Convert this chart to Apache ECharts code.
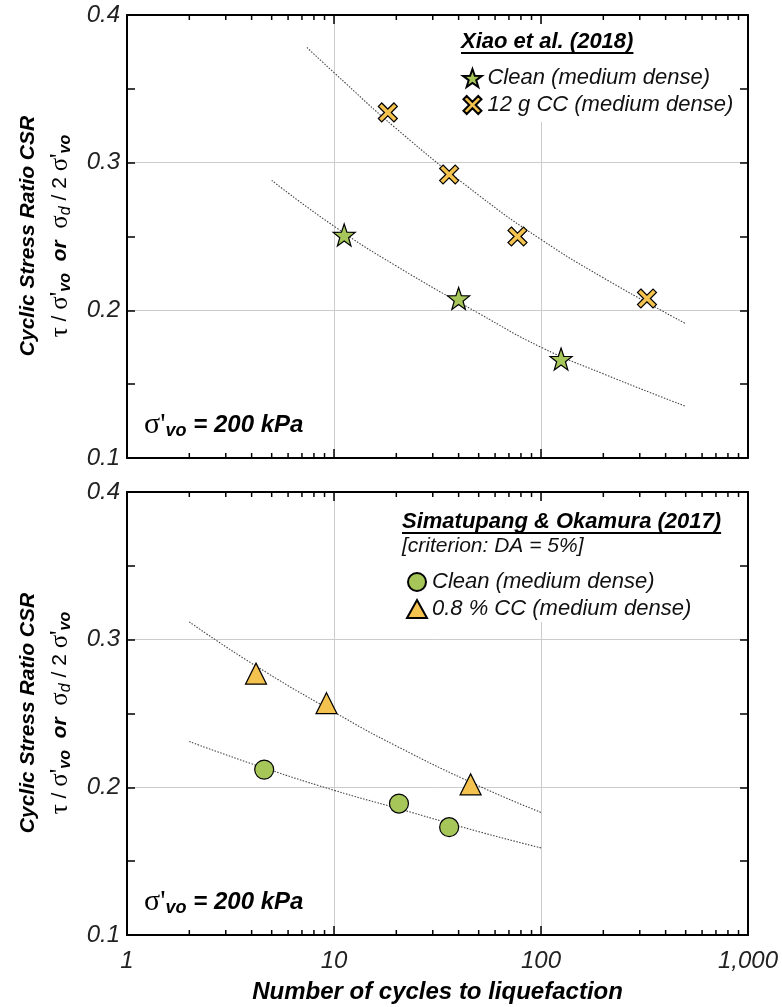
<!DOCTYPE html>
<html>
<head>
<meta charset="UTF-8">
<title>CSR vs cycles</title>
<script src="https://cdn.jsdelivr.net/npm/echarts@6/dist/echarts.min.js"></script>
<style>
  html, body { margin: 0; padding: 0; background: #fff; }
  #chart { width: 782px; height: 1007px; }
</style>
</head>
<body>
<div id="chart"></div>
<script type="text/javascript">
// ---- data ----
// top panel: Xiao et al. (2018)
var xiaoCleanN   = [11.2, 40, 125];
var xiaoCleanCSR = [0.251, 0.208, 0.167];
var xiaoCcN      = [18.2, 36, 77, 325];
var xiaoCcCSR    = [0.334, 0.292, 0.250, 0.208];
// dotted trend lines (points picked along the curves)
var xiaoCleanFitN   = [5, 10, 20, 50, 100, 200, 500];
var xiaoCleanFitCSR = [0.288, 0.257, 0.230, 0.198, 0.175, 0.157, 0.135];
var xiaoCcFitN      = [7.4, 10, 20, 50, 100, 200, 500];
var xiaoCcFitCSR    = [0.378, 0.361, 0.323, 0.278, 0.248, 0.222, 0.191];

// bottom panel: Simatupang & Okamura (2017)
var simaCleanN   = [4.6, 20.6, 36];
var simaCleanCSR = [0.212, 0.189, 0.173];
var simaCcN      = [4.2, 9.2, 45.7];
var simaCcCSR    = [0.277, 0.257, 0.202];
var simaCleanFitN   = [2, 4, 10, 20, 50, 100];
var simaCleanFitCSR = [0.231, 0.216, 0.198, 0.186, 0.170, 0.159];
var simaCcFitN      = [2, 4, 10, 20, 50, 100];
var simaCcFitCSR    = [0.312, 0.284, 0.251, 0.228, 0.201, 0.183];

// axes
var xMin = 1, xMax = 1000;
var yMin = 0.1, yMax = 0.4, yStep = 0.1;
var xTickLabels = { 1: '1', 10: '10', 100: '100', 1000: '1,000' };
var xMinorTicks = [2, 3, 4, 5, 6, 7, 8, 9, 20, 30, 40, 50, 60, 70, 80, 90, 200, 300, 400, 500, 600, 700, 800, 900];

var legendNames = {
  xiaoClean: 'Clean (medium dense)',
  xiaoCc: '12 g CC (medium dense)',
  simaClean: 'Clean (medium dense)',
  simaCc: '0.8 % CC (medium dense)'
};

function zip(a, b) {
  var out = [];
  for (var i = 0; i < a.length; i++) out.push([a[i], b[i]]);
  return out;
}

var STAR = 'path://M50 0 L61.76 33.82 L97.55 34.55 L69.02 56.18 L79.39 90.45 L50 70 L20.61 90.45 L30.98 56.18 L2.45 34.55 L38.24 33.82 Z';
var CROSS = 'path://M18 0 L50 32 L82 0 L100 18 L68 50 L100 82 L82 100 L50 68 L18 100 L0 82 L32 50 L0 18 Z';

var green = '#a6c65a';
var gold = '#f4c24e';
var SANS = '"Liberation Sans", Arial, sans-serif';
var SERIF = '"Liberation Serif", "DejaVu Serif", serif';

function textWidth(txt, font) {
  var c = document.createElement('canvas').getContext('2d');
  c.font = font;
  return c.measureText(txt).width;
}

var grids = [
  { left: 127, top: 15, width: 621, height: 443 },
  { left: 127, top: 492, width: 621, height: 443 }
];

function xAxisFor(gi, pos, showLabels) {
  var main = pos === 'bottom';
  return {
    type: 'log', logBase: 10, gridIndex: gi, position: pos, min: xMin, max: xMax,
    axisLine: { show: true, onZero: false, lineStyle: { color: '#000', width: 2 } },
    axisTick: { show: true, inside: true, length: 9, lineStyle: { color: '#000', width: 1.5 } },
    axisLabel: {
      show: showLabels, margin: 14, fontFamily: SANS, fontStyle: 'italic', fontSize: 24, color: '#222',
      formatter: function (v) { return xTickLabels[Math.round(v)] || ''; }
    },
    splitLine: { show: main, lineStyle: { color: '#cccccc', width: 1 } },
    name: showLabels ? 'Number of cycles to liquefaction' : '',
    nameLocation: 'middle', nameGap: 45,
    nameTextStyle: { fontFamily: SANS, fontStyle: 'italic', fontWeight: 'bold', fontSize: 24, color: '#000' }
  };
}

function yAxisFor(gi, pos) {
  var main = pos === 'left';
  return {
    type: 'value', gridIndex: gi, position: pos, min: yMin, max: yMax, interval: yStep,
    axisLine: { show: true, onZero: false, lineStyle: { color: '#000', width: 2 } },
    axisTick: { show: true, inside: true, length: 8, lineStyle: { color: '#000', width: 1.5 } },
    minorTick: { show: true, splitNumber: 2, length: 8, lineStyle: { color: '#000', width: 1.5 } },
    axisLabel: {
      show: main, margin: 7, fontFamily: SANS, fontStyle: 'italic', fontSize: 24, color: '#222',
      formatter: function (v) { return v.toFixed(1); }
    },
    splitLine: { show: main, lineStyle: { color: '#cccccc', width: 1 } }
  };
}

function minorTickSeries(gi) {
  return {
    type: 'custom', xAxisIndex: gi * 2, yAxisIndex: gi * 2, silent: true, z: 5,
    data: xMinorTicks.map(function (v) { return [v, yMin]; }),
    renderItem: function (params, api) {
      var v = api.value(0);
      var b = api.coord([v, yMin]);
      var t = api.coord([v, yMax]);
      var st = { stroke: '#000', lineWidth: 1.5 };
      return {
        type: 'group', children: [
          { type: 'line', shape: { x1: b[0], y1: b[1], x2: b[0], y2: b[1] - 5 }, style: st },
          { type: 'line', shape: { x1: t[0], y1: t[1], x2: t[0], y2: t[1] + 5 }, style: st }
        ]
      };
    }
  };
}

function fitLine(gi, data) {
  return {
    type: 'line', xAxisIndex: gi * 2, yAxisIndex: gi * 2, data: data, smooth: true,
    showSymbol: false, silent: true, z: 2,
    lineStyle: { color: '#444', width: 1.1, type: [1.5, 1.5] }
  };
}

function scatter(gi, name, data, symbol, size, color) {
  return {
    type: 'scatter', name: name, xAxisIndex: gi * 2, yAxisIndex: gi * 2, data: data,
    symbol: symbol, symbolSize: size, z: 3,
    itemStyle: { color: color, borderColor: '#000', borderWidth: 1.2, opacity: 1 }
  };
}

function legendFor(names, left, top) {
  return {
    data: names, orient: 'vertical', left: left, top: top,
    itemWidth: 20, itemHeight: 18, itemGap: 1, selectedMode: false,
    formatter: function (n) { return legendNames[n]; },
    textStyle: { fontFamily: SANS, fontStyle: 'italic', fontSize: 22, lineHeight: 26, color: '#111' }
  };
}

var titleFont = 'italic bold 22px ' + SANS;
var title1 = 'Xiao et al. (2018)';
var title2 = 'Simatupang & Okamura (2017)';
var t1w = textWidth(title1, titleFont);
var t2w = textWidth(title2, titleFont);

var richY = {
  b: { fontFamily: SANS, fontStyle: 'italic', fontWeight: 'bold', fontSize: 21, color: '#000' },
  r: { fontFamily: SANS, fontStyle: 'italic', fontWeight: 'bold', fontSize: 21, color: '#000' },
  g: { fontFamily: SERIF, fontSize: 25, color: '#000', lineHeight: 28, verticalAlign: 'middle' },
  n: { fontFamily: SANS, fontSize: 21, color: '#000' },
  sub: { fontFamily: SANS, fontStyle: 'italic', fontWeight: 'bold', fontSize: 16, color: '#000', lineHeight: 12, verticalAlign: 'bottom' },
  subi: { fontFamily: SANS, fontStyle: 'italic', fontSize: 16, color: '#000', lineHeight: 12, verticalAlign: 'bottom' }
};

function yTitle(cy) {
  return [
    { type: 'text', x: 28, y: cy, rotation: Math.PI / 2, z: 10,
      style: { text: '{b|Cyclic Stress }{r|Ratio}{b| CSR}', rich: richY, align: 'center', verticalAlign: 'middle' } },
    { type: 'text', x: 60, y: cy, rotation: Math.PI / 2, z: 10,
      style: { text: "{g|τ}{n| / }{g|σ'}{sub|vo}{b|  or  }{g|σ}{subi|d}{n| / 2 }{g|σ'}{sub|vo}", rich: richY, align: 'center', verticalAlign: 'middle' } }
  ];
}

function sigmaLabel(y) {
  return { type: 'text', x: 144, y: y, z: 10,
    style: { text: "{g|σ'}{sub|vo}{b| = 200 kPa}", rich: {
      g: { fontFamily: SERIF, fontSize: 30, color: '#000', lineHeight: 30, verticalAlign: 'middle' },
      sub: { fontFamily: SANS, fontStyle: 'italic', fontWeight: 'bold', fontSize: 18, color: '#000', lineHeight: 14, verticalAlign: 'bottom' },
      b: { fontFamily: SANS, fontStyle: 'italic', fontWeight: 'bold', fontSize: 24, color: '#000' }
    }, verticalAlign: 'middle' } };
}

var graphics = [
  // white panels behind the legends
  { type: 'rect', shape: { x: 455, y: 24, width: 280, height: 98 }, style: { fill: '#fff' }, z: 1 },
  { type: 'rect', shape: { x: 394, y: 501, width: 341, height: 121 }, style: { fill: '#fff' }, z: 1 },
  { type: 'text', x: 461, y: 42, z: 10, style: { text: title1, font: titleFont, fill: '#000', verticalAlign: 'middle' } },
  { type: 'line', z: 10, shape: { x1: 461, y1: 53, x2: 461 + t1w, y2: 53 }, style: { stroke: '#000', lineWidth: 2 } },
  { type: 'text', x: 402, y: 522, z: 10, style: { text: title2, font: titleFont, fill: '#000', verticalAlign: 'middle' } },
  { type: 'line', z: 10, shape: { x1: 402, y1: 533, x2: 402 + t2w, y2: 533 }, style: { stroke: '#000', lineWidth: 2 } },
  { type: 'text', x: 402, y: 546, z: 10, style: { text: '[criterion: DA = 5%]', font: 'italic 21px ' + SANS, fill: '#111', verticalAlign: 'middle' } },
  sigmaLabel(425),
  sigmaLabel(902)
].concat(yTitle(236)).concat(yTitle(713));

var chart = echarts.init(document.getElementById('chart'), null, { renderer: 'canvas' });
chart.setOption({
  animation: false,
  backgroundColor: '#fff',
  grid: grids,
  xAxis: [xAxisFor(0, 'bottom', false), xAxisFor(0, 'top', false), xAxisFor(1, 'bottom', true), xAxisFor(1, 'top', false)],
  yAxis: [yAxisFor(0, 'left'), yAxisFor(0, 'right'), yAxisFor(1, 'left'), yAxisFor(1, 'right')],
  legend: [legendFor(['xiaoClean', 'xiaoCc'], 457, 60), legendFor(['simaClean', 'simaCc'], 401, 564)],
  graphic: graphics,
  series: [
    fitLine(0, zip(xiaoCleanFitN, xiaoCleanFitCSR)),
    fitLine(0, zip(xiaoCcFitN, xiaoCcFitCSR)),
    scatter(0, 'xiaoClean', zip(xiaoCleanN, xiaoCleanCSR), STAR, 22, green),
    scatter(0, 'xiaoCc', zip(xiaoCcN, xiaoCcCSR), CROSS, 19, gold),
    fitLine(1, zip(simaCleanFitN, simaCleanFitCSR)),
    fitLine(1, zip(simaCcFitN, simaCcFitCSR)),
    scatter(1, 'simaClean', zip(simaCleanN, simaCleanCSR), 'circle', 19, green),
    scatter(1, 'simaCc', zip(simaCcN, simaCcCSR), 'triangle', 21, gold),
    minorTickSeries(0),
    minorTickSeries(1)
  ]
});
</script>
</body>
</html>
